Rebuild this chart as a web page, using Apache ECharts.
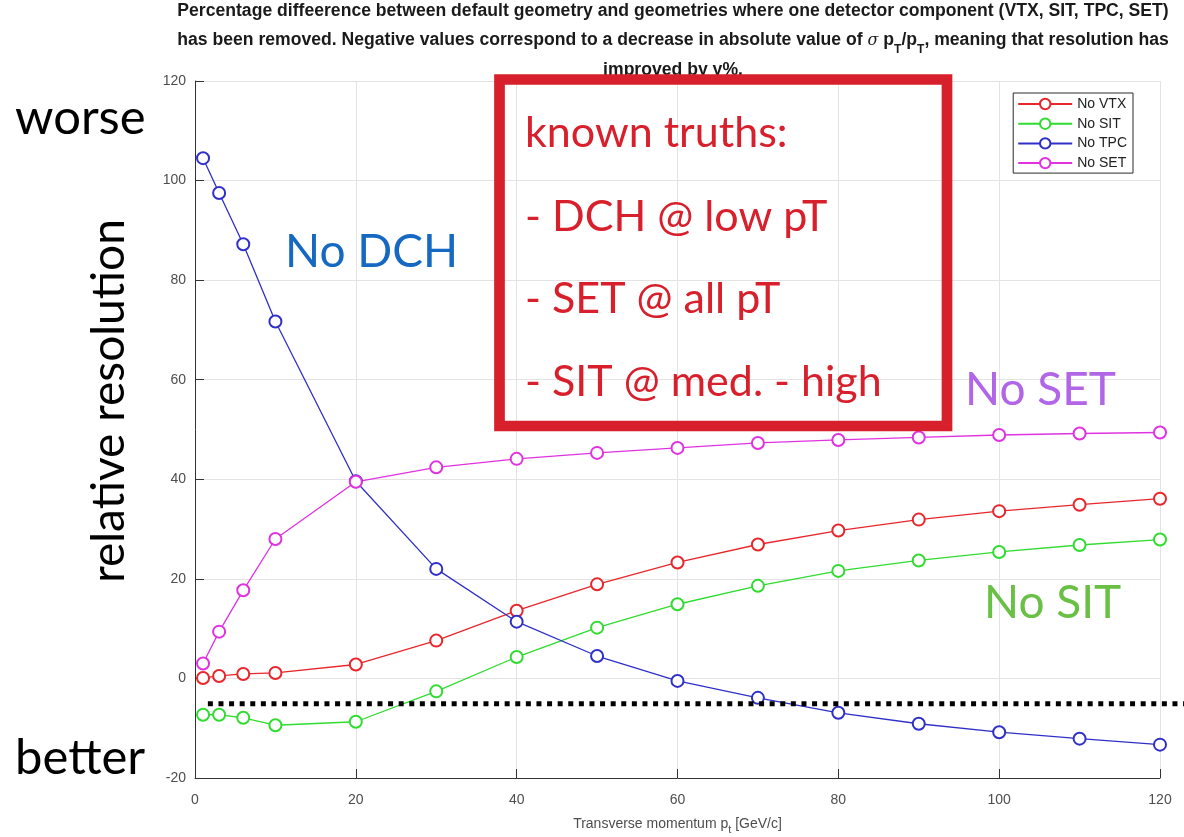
<!DOCTYPE html>
<html>
<head>
<meta charset="utf-8">
<script src="https://cdn.jsdelivr.net/npm/echarts@6/dist/echarts.min.js"></script>
<style>
html,body{margin:0;padding:0;background:#fff;}
#chart{width:1184px;height:837px;}
</style>
</head>
<body>
<div id="chart"></div>
<script>
// ---- data ----
var pt = [1, 3, 6, 10, 20, 30, 40, 50, 60, 70, 80, 90, 100, 110, 120];
var noVTX = [0.1, 0.5, 0.9, 1.1, 2.8, 7.6, 13.6, 18.9, 23.3, 26.9, 29.7, 31.9, 33.6, 34.9, 36.1];
var noSIT = [-7.3, -7.3, -7.9, -9.4, -8.7, -2.6, 4.3, 10.2, 14.9, 18.6, 21.6, 23.7, 25.4, 26.8, 27.9];
var noTPC = [104.5, 97.5, 87.2, 71.7, 39.6, 22.0, 11.4, 4.5, -0.5, -3.9, -6.9, -9.1, -10.8, -12.1, -13.3];
var noSET = [3.0, 9.4, 17.7, 28.0, 39.5, 42.4, 44.1, 45.3, 46.3, 47.3, 47.9, 48.4, 48.9, 49.2, 49.4];
var seriesNames = ['No VTX', 'No SIT', 'No TPC', 'No SET'];
var refLineX = [1.6, 123.1];
var refLineY = -5.1;
var xTicks = {min: 0, max: 120, interval: 20};
var yTicks = {min: -20, max: 120, interval: 20};

function pairs(xs, ys) { return xs.map(function (x, i) { return [x, ys[i]]; }); }

var colors = ['#e8262b', '#2fdc2f', '#3030c8', '#e032e0'];
var values = [noVTX, noSIT, noTPC, noSET];

var series = seriesNames.map(function (n, i) {
  return {
    name: n, type: 'line', data: pairs(pt, values[i]),
    symbol: 'emptyCircle', symbolSize: 12, showAllSymbol: true,
    lineStyle: {color: colors[i], width: 1.3},
    itemStyle: {color: colors[i], borderColor: colors[i], borderWidth: 1.2},
    z: 3
  };
});

var axisFont = {color: '#4d4d4d', fontSize: 14, fontFamily: 'Liberation Sans'};
var red = '#d8202d';

var chart = echarts.init(document.getElementById('chart'));
chart.setOption({
  animation: false,
  backgroundColor: '#fff',
  title: {
    text: 'Percentage diffeerence between default geometry and geometries where one detector component (VTX, SIT, TPC, SET)\n' +
          'has been removed. Negative values correspond to a decrease in absolute value of {i|σ} p{s|T}/p{s|T}, meaning that resolution has\n' +
          'improved by y%.',
    left: 673, top: -4, textAlign: 'center', padding: 0,
    textStyle: {
      fontFamily: 'Liberation Sans', fontWeight: 'bold', fontSize: 17.6, color: '#1a1a1a', lineHeight: 29.6,
      rich: {
        i: {fontFamily: 'DejaVu Serif', fontStyle: 'italic', fontWeight: 'normal', fontSize: 16, color: '#1a1a1a', lineHeight: 29.6},
        s: {fontFamily: 'Liberation Sans', fontWeight: 'bold', fontSize: 12, color: '#1a1a1a', lineHeight: 21, verticalAlign: 'bottom'}
      }
    }
  },
  legend: {
    data: seriesNames, orient: 'vertical', right: 51, top: 93,
    backgroundColor: '#fff', borderColor: '#2a2a2a', borderWidth: 1,
    padding: [4, 6, 3, 4], itemWidth: 54, itemHeight: 13, itemGap: 5.7,
    textStyle: {fontFamily: 'Liberation Sans', fontSize: 14, color: '#222'}
  },
  grid: {left: 195, right: 24, top: 81, bottom: 59, containLabel: false, outerBoundsMode: 'none'},
  xAxis: {
    type: 'value', min: xTicks.min, max: xTicks.max, interval: xTicks.interval,
    name: 'Transverse momentum p{s|t} [GeV/c]', nameLocation: 'middle', nameGap: 35,
    nameTextStyle: {color: '#4d4d4d', fontSize: 14, fontFamily: 'Liberation Sans',
      rich: {s: {fontSize: 11, color: '#4d4d4d', fontFamily: 'Liberation Sans', lineHeight: 22, verticalAlign: 'bottom'}}},
    axisLine: {show: true, onZero: false, lineStyle: {color: '#333', width: 1}},
    axisTick: {show: true, inside: true, length: 9, lineStyle: {color: '#333'}},
    splitLine: {show: true, lineStyle: {color: '#e3e3e3', width: 1}},
    axisLabel: Object.assign({margin: 15}, axisFont)
  },
  yAxis: {
    type: 'value', min: yTicks.min, max: yTicks.max, interval: yTicks.interval,
    axisLine: {show: true, onZero: false, lineStyle: {color: '#333', width: 1}},
    axisTick: {show: true, inside: true, length: 9, lineStyle: {color: '#333'}},
    splitLine: {show: true, lineStyle: {color: '#e3e3e3', width: 1}},
    axisLabel: Object.assign({margin: 9}, axisFont)
  },
  series: series,
  graphic: [
    {type: 'rect', z: 100, shape: {x: 499.5, y: 79.5, width: 447.5, height: 346.5},
     style: {fill: 'none', stroke: red, lineWidth: 10.7}},
    {type: 'text', z: 100, x: 525, y: 133, style: {text: 'known truths:', fill: red, font: '43px Lato', verticalAlign: 'middle'}},
    {type: 'text', z: 100, x: 525, y: 217, style: {text: '- DCH @ low pT', fill: red, font: '43px Lato', verticalAlign: 'middle'}},
    {type: 'text', z: 100, x: 525, y: 299, style: {text: '- SET @ all pT', fill: red, font: '43px Lato', verticalAlign: 'middle'}},
    {type: 'text', z: 100, x: 525, y: 382, style: {text: '- SIT @ med. - high', fill: red, font: '43px Lato', verticalAlign: 'middle'}},
    {type: 'text', z: 100, x: 15, y: 118, style: {text: 'worse', fill: '#000', font: '49px Lato', verticalAlign: 'middle'}},
    {type: 'text', z: 100, x: 15, y: 758, style: {text: 'better', fill: '#000', font: '49px Lato', verticalAlign: 'middle'}},
    {type: 'text', z: 100, x: 109, y: 401, rotation: Math.PI / 2,
     style: {text: 'relative resolution', fill: '#000', font: '46px Lato', align: 'center', verticalAlign: 'middle'}},
    {type: 'text', z: 100, x: 285, y: 252, style: {text: 'No DCH', fill: '#1569c2', font: '46px Lato', verticalAlign: 'middle'}},
    {type: 'text', z: 100, x: 965, y: 390, style: {text: 'No SET', fill: '#b066e6', font: '46px Lato', verticalAlign: 'middle'}},
    {type: 'text', z: 100, x: 984, y: 603, style: {text: 'No SIT', fill: '#6abf45', font: '46px Lato', verticalAlign: 'middle'}}
  ]
});

// dotted reference line, positioned through the chart's own scales
var p1 = chart.convertToPixel({gridIndex: 0}, [refLineX[0], refLineY]);
var p2 = chart.convertToPixel({gridIndex: 0}, [refLineX[1], refLineY]);
chart.setOption({
  graphic: [
    {type: 'line', id: 'refLine', z: 50, silent: true,
     shape: {x1: p1[0], y1: p1[1], x2: p2[0], y2: p2[1]},
     style: {stroke: '#000', lineWidth: 5, lineDash: [5, 5.6], lineCap: 'butt'}}
  ]
});
</script>
</body>
</html>
